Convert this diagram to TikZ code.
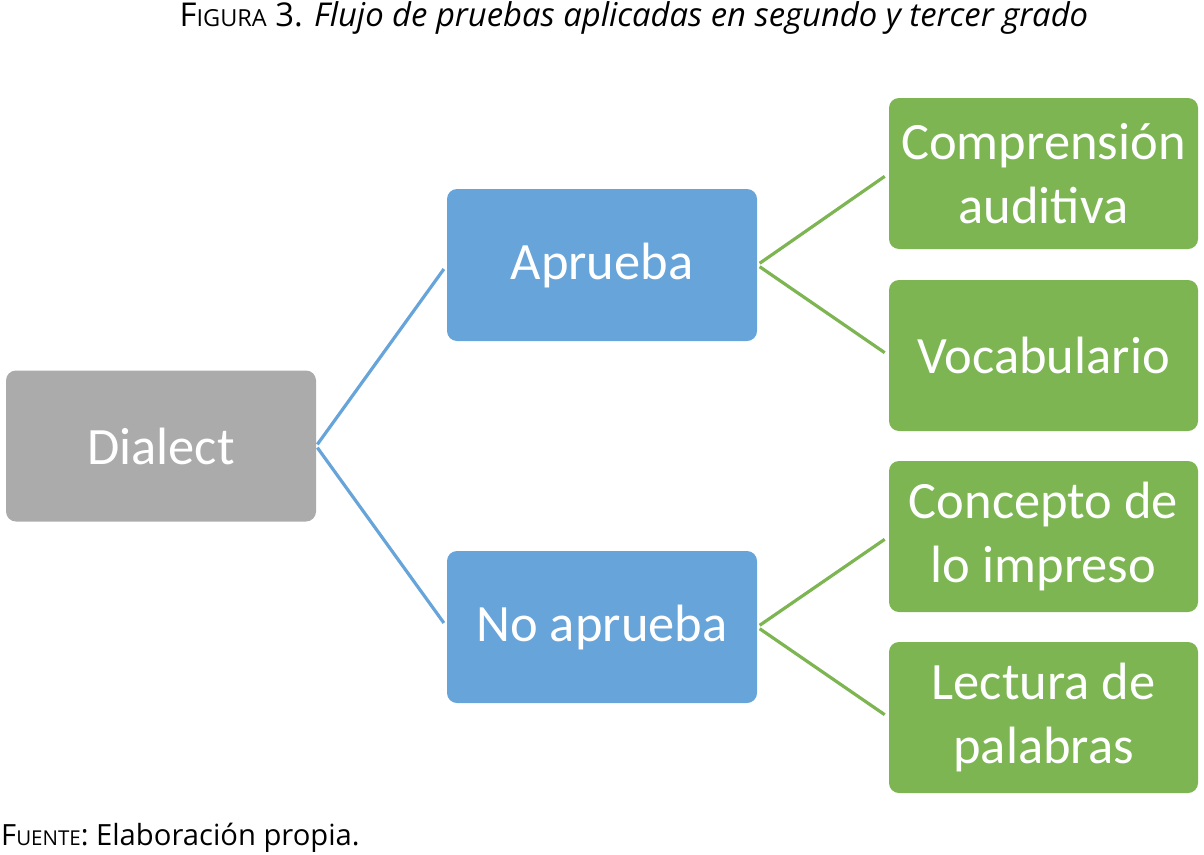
\documentclass[tikz,border=0pt]{standalone}
\usepackage{fontspec}
\setmainfont{Open Sans}
\newfontfamily\boxfont{Carlito}
\definecolor{boxgray}{RGB}{171,171,171}
\definecolor{boxblue}{RGB}{102,164,217}
\definecolor{boxgreen}{RGB}{124,181,82}
\definecolor{lineblue}{RGB}{102,164,217}
\definecolor{linegreen}{RGB}{124,181,82}
\newcommand{\fakesc}[2]{{\fontsize{#1}{#1}\selectfont #2}}
\begin{document}
\begin{tikzpicture}[x=1pt,y=-1pt,
  card/.style={rectangle, rounded corners=10pt, inner sep=0pt, text=white,
    align=center, font=\boxfont\fontsize{52.5}{64.5}\selectfont},
  graycard/.style={card, fill=boxgray, minimum width=310pt, minimum height=151pt},
  bluecard/.style={card, fill=boxblue, minimum width=310pt, minimum height=152pt},
  greencard/.style={card, fill=boxgreen, minimum width=309pt, minimum height=151pt},
  bluelink/.style={draw=lineblue, line width=3.2pt, shorten <=2pt, shorten >=5pt},
  greenlink/.style={draw=linegreen, line width=3.2pt, shorten <=3pt, shorten >=5pt},
  titlefont/.style={inner sep=0pt, font=\fontsize{32.8}{33}\selectfont},
  sourcefont/.style={inner sep=0pt, font=\fontsize{29.2}{29}\selectfont}
]
\useasboundingbox (0,0) rectangle (1204,854);

\node[titlefont, anchor=base] (title) at (634,26)
  {F\fakesc{23.5}{IGURA} 3. \textit{Flujo de pruebas aplicadas en segundo y tercer grado}};

\node[graycard] (dialect) at (161,446) {Dialect};
\node[bluecard] (aprueba) at (602,265) {Aprueba};
\node[bluecard] (noaprueba) at (602,627) {No aprueba};
\node[greencard] (comp) at (1043.5,173.5) {Comprensión\\auditiva};
\node[greencard] (voc) at (1043.5,355.5) {Vocabulario};
\node[greencard] (conc) at (1043.5,536.5) {Concepto de\\lo impreso};
\node[greencard] (lect) at (1043.5,717.5) {Lectura de\\palabras};

\draw[bluelink] (dialect.east) -- (aprueba.west);
\draw[bluelink] (dialect.east) -- (noaprueba.west);
\draw[greenlink] (aprueba.east) -- (comp.west);
\draw[greenlink] (aprueba.east) -- (voc.west);
\draw[greenlink] (noaprueba.east) -- (conc.west);
\draw[greenlink] (noaprueba.east) -- (lect.west);

\node[sourcefont, anchor=base west] (source) at (1,845)
  {F\fakesc{20.5}{UENTE}: Elaboración propia.};
\end{tikzpicture}
\end{document}
